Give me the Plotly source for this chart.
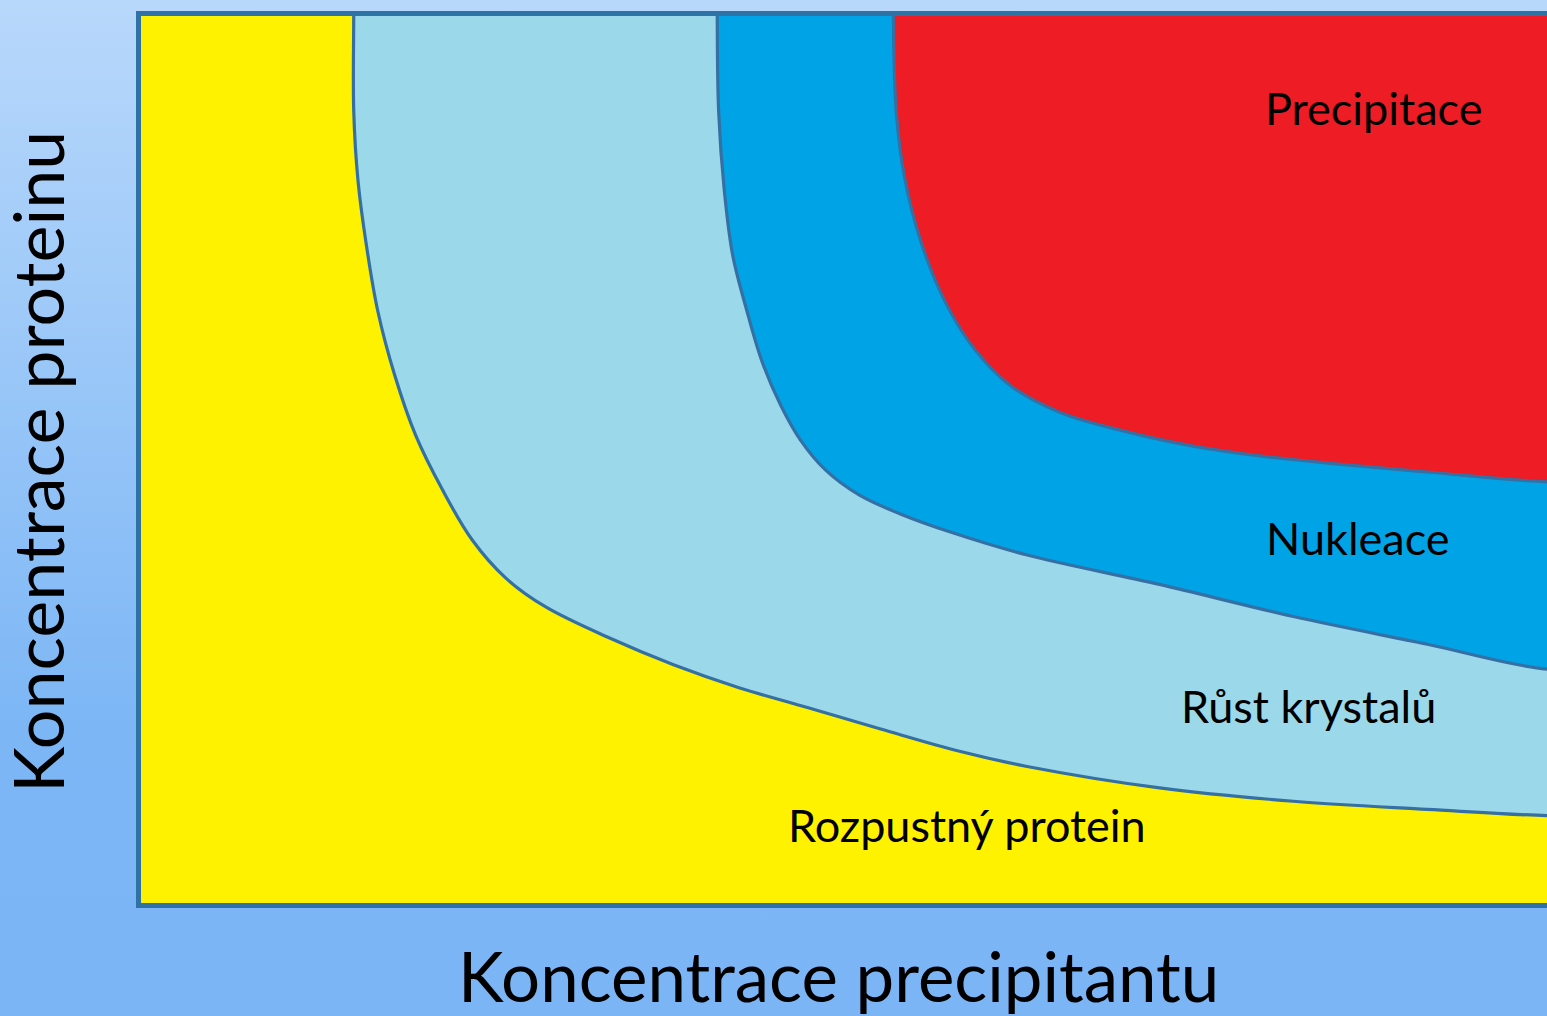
import base64
import plotly.graph_objects as go

# ---- data (arbitrary units: precipitant conc. on x, protein conc. on y) ----
# solubility curve (Rozpustný protein | Růst krystalů)
sol_x = [1.53, 1.53, 1.56, 1.62, 1.70, 1.82, 1.97, 2.16, 2.37, 2.61, 2.89, 3.33,
         3.80, 4.27, 4.75, 5.27, 5.83, 6.31, 7.25, 8.20, 9.15, 10.0]
sol_y = [10.0, 8.91, 8.13, 7.40, 6.67, 5.95, 5.27, 4.66, 4.10, 3.67, 3.35, 3.01,
         2.70, 2.44, 2.22, 1.98, 1.73, 1.56, 1.32, 1.17, 1.08, 1.01]
# nucleation curve (Růst krystalů | Nukleace)
nuc_x = [4.11, 4.12, 4.16, 4.22, 4.32, 4.43, 4.56, 4.70, 4.88, 5.12, 5.41, 5.76,
         6.31, 7.25, 8.20, 9.15, 10.0]
nuc_y = [10.0, 8.91, 8.02, 7.29, 6.67, 6.09, 5.61, 5.22, 4.88, 4.60, 4.39, 4.19,
         3.93, 3.60, 3.24, 2.93, 2.65]
# precipitation curve (Nukleace | Precipitace)
pre_x = [5.36, 5.38, 5.44, 5.56, 5.74, 5.94, 6.19, 6.54, 7.02, 7.49, 7.96, 8.44,
         9.15, 10.0]
pre_y = [10.0, 8.91, 8.16, 7.42, 6.73, 6.23, 5.83, 5.53, 5.31, 5.15, 5.04, 4.96,
         4.86, 4.75]

region_labels = ["Rozpustný protein", "Růst krystalů", "Nukleace", "Precipitace"]
label_x = [5.88, 8.31, 8.66, 8.77]
label_y = [0.90, 2.24, 4.12, 8.94]

x_title = "Koncentrace precipitantu"
y_title = "Koncentrace proteinu"

# ---- styling ----
W, H = 1547, 1016
L, R, T, B = 141, 0, 16, 113
PW, PH = W - L - R, H - T - B
FONT = "Lato"
EDGE = "#3570A4"
FRAME = "#2E72A6"

fig = go.Figure()

# yellow base (soluble region) filling the whole plot area
fig.add_trace(go.Scatter(
    x=[-1, 11, 11, -1], y=[-1, -1, 11, 11], mode="lines", fill="toself",
    fillcolor="#FFF200", line=dict(width=0), hoverinfo="skip", showlegend=False))


def region(xs, ys, color):
    # close the region through the (clipped) upper-right corner
    px = [xs[0]] + list(xs) + [10.8, 10.8]
    py = [10.8] + list(ys) + [ys[-1], 10.8]
    fig.add_trace(go.Scatter(
        x=px, y=py, mode="lines", fill="toself", fillcolor=color,
        line=dict(color=EDGE, width=3.2, shape="spline", smoothing=1.0),
        hoverinfo="skip", showlegend=False))


region(sol_x, sol_y, "#9BD8EA")
region(nuc_x, nuc_y, "#00A4E6")
region(pre_x, pre_y, "#ED1C25")

for t, x, y in zip(region_labels, label_x, label_y):
    fig.add_annotation(x=x, y=y, xref="x", yref="y", text=t, showarrow=False,
                       font=dict(family=FONT, size=45, color="#000000"),
                       xanchor="center", yanchor="middle")

fig.add_annotation(x=(838 - L) / PW, y=(H - B - 975) / PH, xref="paper", yref="paper",
                   text=x_title, showarrow=False,
                   font=dict(family=FONT, size=69, color="#000000"),
                   xanchor="center", yanchor="middle")
fig.add_annotation(x=(37 - L) / PW, y=(H - B - 462) / PH, xref="paper", yref="paper",
                   text=y_title, showarrow=False, textangle=-90,
                   font=dict(family=FONT, size=70, color="#000000"),
                   xanchor="center", yanchor="middle")

svg = (f'<svg xmlns="http://www.w3.org/2000/svg" width="{W}" height="{H}" '
       f'preserveAspectRatio="none">'
       '<defs><linearGradient id="g" x1="0" y1="0" x2="0" y2="1">'
       '<stop offset="0" stop-color="#B8D8FB"/>'
       '<stop offset="0.72" stop-color="#7CB6F5"/>'
       '<stop offset="1" stop-color="#7BB5F5"/>'
       '</linearGradient></defs>'
       f'<rect width="{W}" height="{H}" fill="url(#g)"/></svg>')
src = "data:image/svg+xml;base64," + base64.b64encode(svg.encode()).decode()

fig.add_layout_image(dict(source=src, xref="paper", yref="paper",
                          x=-L / PW, y=1 + T / PH, sizex=W / PW, sizey=H / PH,
                          xanchor="left", yanchor="top", sizing="stretch",
                          layer="below"))

fig.update_layout(
    width=W, height=H,
    margin=dict(l=L, r=R, t=T, b=B, pad=0),
    paper_bgcolor="#8FC0F7",
    plot_bgcolor="#FFF200",
    xaxis=dict(range=[0.02, 10.0], showgrid=False, zeroline=False,
               showticklabels=False, ticks="", showline=True, mirror=True,
               linecolor=FRAME, linewidth=5, fixedrange=True),
    yaxis=dict(range=[0.03, 9.97], showgrid=False, zeroline=False,
               showticklabels=False, ticks="", showline=True, mirror=False,
               linecolor=FRAME, linewidth=5, fixedrange=True),
)

fig.write_html("out.html", config={"displayModeBar": False},
               post_script="document.body.style.margin='0';")
